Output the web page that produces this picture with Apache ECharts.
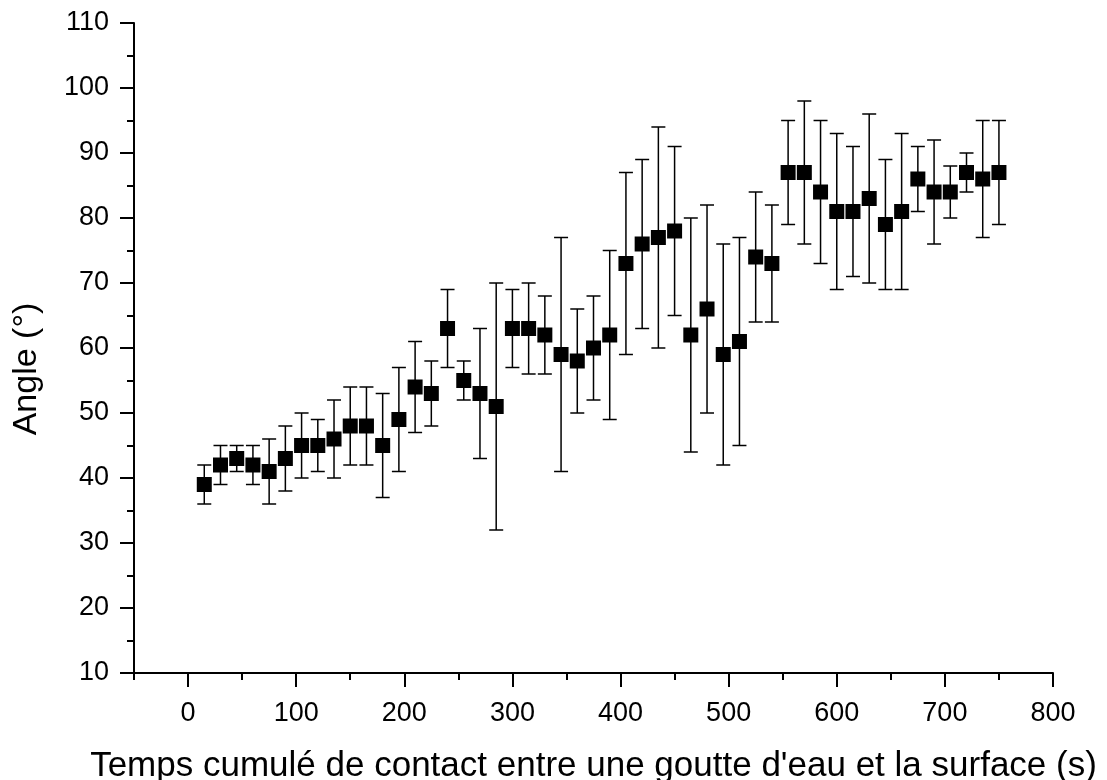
<!DOCTYPE html>
<html>
<head>
<meta charset="utf-8">
<script src="https://cdn.jsdelivr.net/npm/echarts@6/dist/echarts.min.js"></script>
<style>
  html, body { margin: 0; padding: 0; background: #fff; }
  #chart { width: 1107px; height: 780px; }
</style>
</head>
<body>
<div id="chart"></div>
<script>
// Cumulative contact time (s) between water drop and surface
const times = [15, 30, 45, 60, 75, 90, 105, 120, 135, 150,
               165, 180, 195, 210, 225, 240, 255, 270, 285, 300,
               315, 330, 345, 360, 375, 390, 405, 420, 435, 450,
               465, 480, 495, 510, 525, 540, 555, 570, 585, 600,
               615, 630, 645, 660, 675, 690, 705, 720, 735, 750];
// Mean contact angle (degrees)
const angles = [39, 42, 43, 42, 41, 43, 45, 45, 46, 48,
                48, 45, 49, 54, 53, 63, 55, 53, 51, 63,
                63, 62, 59, 58, 60, 62, 73, 76, 77, 78,
                62, 66, 59, 61, 74, 73, 87, 87, 84, 81,
                81, 83, 79, 81, 86, 84, 84, 87, 86, 87];
// Standard deviation of the angle (degrees)
const deviations = [3, 3, 2, 3, 5, 5, 5, 4, 6, 6,
                    6, 8, 8, 7, 5, 6, 3, 10, 19, 6,
                    7, 6, 18, 8, 8, 13, 14, 13, 17, 13,
                    18, 16, 17, 16, 10, 9, 8, 11, 11, 12,
                    10, 13, 10, 12, 5, 8, 4, 3, 9, 8];

const xMajorTicks = [0, 100, 200, 300, 400, 500, 600, 700, 800];
const xMinorTicks = [-50, 50, 150, 250, 350, 450, 550, 650, 750];

const FONT = '"Liberation Sans", Arial, Helvetica, sans-serif';

const points = times.map((t, i) => [t, angles[i]]);
const bars = times.map((t, i) => [t, angles[i] - deviations[i], angles[i] + deviations[i]]);

const chart = echarts.init(document.getElementById('chart'));

const baseX = {
  type: 'value',
  min: -50,
  max: 800,
  splitLine: { show: false },
  gridIndex: 0
};

chart.setOption({
  animation: false,
  backgroundColor: '#fff',
  grid: { left: 134, right: 54, top: 23, bottom: 107, outerBoundsMode: 'none', containLabel: false },
  xAxis: [
    Object.assign({}, baseX, {
      position: 'bottom',
      name: "Temps cumulé de contact entre une goutte d'eau et la surface (s)",
      nameLocation: 'middle',
      nameGap: 76,
      nameTextStyle: { fontFamily: FONT, fontSize: 35, color: '#000' },
      axisLine: { show: true, onZero: false, lineStyle: { color: '#000', width: 2 } },
      axisTick: { show: true, customValues: xMajorTicks, length: 14, lineStyle: { color: '#000', width: 2 } },
      axisLabel: { show: true, customValues: xMajorTicks, margin: 27, fontFamily: FONT, fontSize: 27, color: '#000' }
    }),
    Object.assign({}, baseX, {
      position: 'bottom',
      axisLine: { show: false, onZero: false },
      axisTick: { show: true, customValues: xMinorTicks, length: 7, lineStyle: { color: '#000', width: 2 } },
      axisLabel: { show: false }
    })
  ],
  yAxis: {
    type: 'value',
    min: 10,
    max: 110,
    interval: 10,
    name: 'Angle (°)',
    nameLocation: 'middle',
    nameGap: 90,
    nameTextStyle: { fontFamily: FONT, fontSize: 34, color: '#000', padding: [0, 42, 0, 0] },
    splitLine: { show: false },
    axisLine: { show: true, onZero: false, lineStyle: { color: '#000', width: 2 } },
    axisTick: { show: true, length: 14, lineStyle: { color: '#000', width: 2 } },
    minorTick: { show: true, splitNumber: 2, length: 7, lineStyle: { color: '#000', width: 2 } },
    axisLabel: { margin: 25, fontFamily: FONT, fontSize: 27, color: '#000' }
  },
  series: [
    {
      type: 'custom',
      xAxisIndex: 0,
      data: bars,
      z: 2,
      renderItem: function (params, api) {
        const x = api.value(0);
        const top = api.coord([x, api.value(2)]);
        const bottom = api.coord([x, api.value(1)]);
        const half = 7;
        const style = { stroke: '#000', lineWidth: 1.5 };
        return {
          type: 'group',
          children: [
            { type: 'line', shape: { x1: top[0], y1: top[1], x2: bottom[0], y2: bottom[1] }, style: style },
            { type: 'line', shape: { x1: top[0] - half, y1: top[1], x2: top[0] + half, y2: top[1] }, style: style },
            { type: 'line', shape: { x1: bottom[0] - half, y1: bottom[1], x2: bottom[0] + half, y2: bottom[1] }, style: style }
          ]
        };
      }
    },
    {
      type: 'scatter',
      xAxisIndex: 0,
      data: points,
      symbol: 'rect',
      symbolSize: 15,
      z: 3,
      itemStyle: { color: '#000', opacity: 1 }
    }
  ]
});
</script>
</body>
</html>
